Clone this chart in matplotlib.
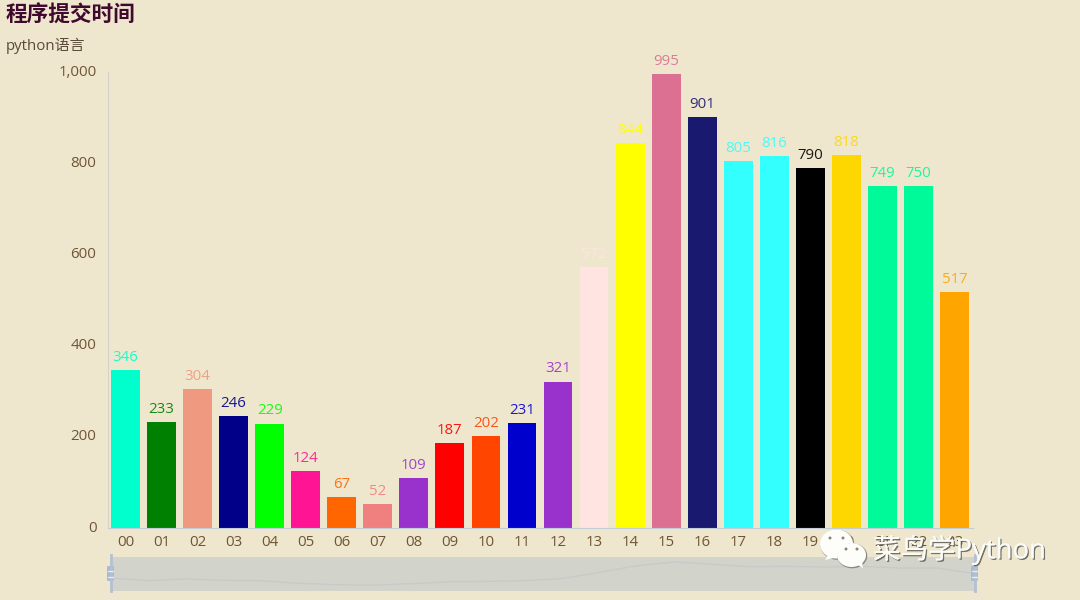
import matplotlib
matplotlib.use('Agg')
import matplotlib.pyplot as plt
from matplotlib.patches import Ellipse, Polygon, FancyBboxPatch
from matplotlib.transforms import ScaledTranslation
import matplotlib.patheffects as pe

plt.rcParams['font.family'] = ['Open Sans', 'Noto Sans CJK SC', 'DejaVu Sans']

hours = ['00', '01', '02', '03', '04', '05', '06', '07', '08', '09', '10', '11',
         '12', '13', '14', '15', '16', '17', '18', '19', '20', '21', '22', '23']
counts = [346, 233, 304, 246, 229, 124, 67, 52, 109, 187, 202, 231,
          321, 572, 844, 995, 901, 805, 816, 790, 818, 749, 750, 517]
colors = ['#00ffcc', '#008000', '#ee9980', '#000088', '#00ff00', '#ff1493',
          '#ff6600', '#f08080', '#9932cc', '#ff0000', '#ff4500', '#0000cd',
          '#9932cc', '#ffe4e1', '#ffff00', '#db7093', '#191970', '#33ffff',
          '#33ffff', '#000000', '#ffd700', '#00fa9a', '#00fa9a', '#ffa500']
yticks = [0, 200, 400, 600, 800, 1000]

W, H = 1080, 600
BG = '#efe7cd'
TXT = '#6e5535'


def px_axes(fig, left, top, right, bottom):
    return fig.add_axes([left / W, 1 - bottom / H, (right - left) / W, (bottom - top) / H])


fig = plt.figure(figsize=(W / 100, H / 100), dpi=100, facecolor=BG)

ax = px_axes(fig, 107.5, 72, 972.5, 528)
ax.set_facecolor('none')
ax.bar(range(len(counts)), counts, width=0.8, color=colors)
for i, v in enumerate(counts):
    ax.annotate(str(v), (i, v), xytext=(0, 3.7), textcoords='offset points', ha='center', va='bottom',
                color=colors[i], fontsize=10.8, alpha=0.9)
ax.set_xlim(-0.5, len(counts) - 0.5)
ax.set_ylim(0, 1000)
ax.set_yticks(yticks, ['{:,}'.format(t) for t in yticks])
ax.set_xticks(range(len(hours)), hours)
ax.tick_params(length=0, labelsize=10.8, labelcolor=TXT)
ax.tick_params(axis='x', pad=5)
ax.tick_params(axis='y', pad=8)
# labels sit a little above their tick position in the original
for lab in ax.get_yticklabels():
    lab.set_transform(lab.get_transform() + ScaledTranslation(0, 2 / 100, fig.dpi_scale_trans))
for s in ['top', 'right']:
    ax.spines[s].set_visible(False)
ax.spines['left'].set_color('#d3d3cc')
ax.spines['bottom'].set_color('#c4ccd6')

fig.text(6 / W, 1 - 16 / H, '程序提交时间', fontsize=15.6, fontweight='bold', color='#3f0a2e', va='center')
fig.text(6 / W, 1 - 45.5 / H, 'python语言', fontsize=10.8, color='#5a4a3a', va='center')

# zoom slider under the chart
sl = px_axes(fig, 111, 557, 975, 591)
sl.set_facecolor('#d2d3ca')
sl.plot(range(len(counts)), counts, color='#c6cac8', lw=0.9)
sl.set_xlim(0, len(counts) - 1)
sl.set_ylim(-190, 1200)
sl.set_xticks([])
sl.set_yticks([])
for s in sl.spines.values():
    s.set_visible(False)

over = fig.add_axes([0, 0, 1, 1])
over.set_xlim(0, W)
over.set_ylim(H, 0)
over.axis('off')
for x in [110.5, 974.5]:
    over.plot([x, x], [555, 591], color='#b3c0d4', lw=2)
    over.add_patch(FancyBboxPatch((x - 3.5, 566), 7, 15, boxstyle='round,pad=0,rounding_size=1.5',
                                  fc='#a9b9d0', ec='none'))
    for y in [570.5, 576.5]:
        over.plot([x - 2.5, x + 2.5], [y, y], color='#e8eaea', lw=1)

# watermark: wechat icon and name
shadow = '#8a8a82'
for cx, cy, w, h, tail in [(836.5, 544, 33, 29, [(829, 553), (825, 560), (838, 557)]),
                           (851.5, 555, 29, 24, [(856, 564), (863, 568), (862, 561)])]:
    over.add_patch(Ellipse((cx + 0.8, cy + 0.8), w + 1, h + 1, fc=shadow, ec='none'))
    over.add_patch(Polygon(tail, fc='#fdfdfa', ec='none'))
    over.add_patch(Ellipse((cx, cy), w, h, fc='#fdfdfa', ec='none'))
for x, y in [(830, 538), (843, 538), (846, 549), (857, 549)]:
    over.add_patch(Ellipse((x, y), 3, 3, fc='#8a8578', ec='none'))
over.text(873, 550, '菜鸟学Python', fontsize=19.8, color='#fbfbf7', va='center', ha='left',
          path_effects=[pe.withSimplePatchShadow(offset=(1, -1), shadow_rgbFace='#55554f', alpha=0.8),
                        pe.Normal()])

fig.savefig('out.png', dpi=100, facecolor=BG)
